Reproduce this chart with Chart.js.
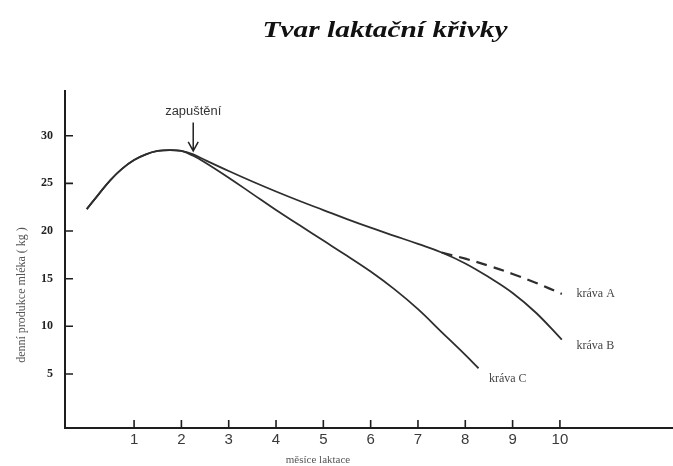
<!DOCTYPE html>
<html>
<head>
<meta charset="utf-8">
<script src="https://cdn.jsdelivr.net/npm/chart.js@4"></script>
<style>
  html, body { margin: 0; padding: 0; background: #fff; }
  #c { display: block; }
</style>
</head>
<body>
<canvas id="c" width="673" height="466"></canvas>
<script>
// ---- data ----
const title = "Tvar laktační křivky";
const yAxisTitle = "denní produkce mléka ( kg )";
const xAxisTitle = "měsíce laktace";
const xTickValues = [1, 2, 3, 4, 5, 6, 7, 8, 9, 10];
const yTickValues = [5, 10, 15, 20, 25, 30];

// shared rising part (before zapuštění)
const riseX = [0, 0.25, 0.5, 0.75, 1.0, 1.25, 1.5, 1.75, 2.0];
const riseY = [22.3, 23.85, 25.35, 26.55, 27.45, 28.05, 28.4, 28.5, 28.4];

// kráva C (after split)
const cowCX = [2.25, 2.5, 3.0, 3.5, 4.0, 4.5, 5.0, 5.5, 6.0, 6.5, 7.0, 7.5, 8.0, 8.28];
const cowCY = [27.9, 27.2, 25.6, 23.9, 22.2, 20.6, 19.0, 17.4, 15.75, 13.9, 11.8, 9.4, 7.0, 5.6];

// kráva B (upper branch, solid, after split)
const cowBX = [2.25, 2.5, 3.0, 3.5, 4.0, 4.5, 5.0, 5.5, 6.0, 6.5, 7.0, 7.5, 8.0, 8.5, 9.0, 9.5, 10.04];
const cowBY = [28.05, 27.45, 26.3, 25.2, 24.15, 23.15, 22.2, 21.25, 20.35, 19.5, 18.65, 17.75, 16.6, 15.15, 13.5, 11.4, 8.6];

// kráva A (dashed continuation)
const cowAX = [7.5, 8.0, 8.5, 9.0, 9.5, 10.04];
const cowAY = [17.75, 17.1, 16.35, 15.5, 14.55, 13.4];

const labels = [
  { text: "kráva A", x: 10.35, y: 13.4 },
  { text: "kráva B", x: 10.35, y: 7.9 },
  { text: "kráva C", x: 8.5, y: 4.5 }
];
const inseminationLabel = "zapuštění";
const inseminationX = 2.25;

function pts(xs, ys) { return xs.map((x, i) => ({ x: x, y: ys[i] })); }

const lineColor = '#2e2e2e';
const base = { borderColor: lineColor, borderWidth: 1.8, pointRadius: 0, tension: 0.4, fill: false };

const decor = {
  id: 'decor',
  afterDraw(chart) {
    const ctx = chart.ctx;
    const xs = chart.scales.x, ys = chart.scales.y;
    const ca = chart.chartArea;
    ctx.save();
    // axes lines
    ctx.strokeStyle = '#1e1e1e';
    ctx.lineWidth = 2;
    ctx.beginPath();
    ctx.moveTo(ca.left, ca.top);
    ctx.lineTo(ca.left, ca.bottom);
    ctx.lineTo(ca.right, ca.bottom);
    ctx.stroke();
    // inner tick marks
    ctx.lineWidth = 1.6;
    ctx.beginPath();
    yTickValues.forEach(v => {
      const py = ys.getPixelForValue(v);
      ctx.moveTo(ca.left, py); ctx.lineTo(ca.left + 8, py);
    });
    xTickValues.forEach(v => {
      const px = xs.getPixelForValue(v);
      ctx.moveTo(px, ca.bottom); ctx.lineTo(px, ca.bottom - 8);
    });
    ctx.stroke();

    // title (stretched horizontally like the reference)
    ctx.save();
    ctx.fillStyle = '#111';
    ctx.font = 'italic bold 24px "Liberation Serif", "DejaVu Serif", serif';
    ctx.textAlign = 'center';
    ctx.textBaseline = 'middle';
    const tw = ctx.measureText(title).width;
    ctx.translate(385, 31);
    ctx.scale(245 / tw, 1);
    ctx.fillText(title, 0, 0);
    ctx.restore();

    // axis titles
    ctx.textAlign = 'center';
    ctx.textBaseline = 'middle';
    ctx.fillStyle = '#555';
    ctx.font = '11px "Liberation Serif", serif';
    ctx.fillText(xAxisTitle, 318, 460);
    ctx.save();
    ctx.translate(22, 295);
    ctx.rotate(-Math.PI / 2);
    ctx.font = '12px "Liberation Serif", serif';
    ctx.fillText(yAxisTitle, 0, 0);
    ctx.restore();

    // curve labels
    ctx.fillStyle = '#444';
    ctx.font = '12px "Liberation Serif", serif';
    ctx.textAlign = 'left';
    labels.forEach(l => {
      ctx.fillText(l.text, xs.getPixelForValue(l.x), ys.getPixelForValue(l.y));
    });

    // zapuštění arrow
    const ax = xs.getPixelForValue(inseminationX);
    const aTop = ys.getPixelForValue(31.4);
    const aBot = ys.getPixelForValue(28.4);
    ctx.strokeStyle = '#222';
    ctx.lineWidth = 1.5;
    ctx.beginPath();
    ctx.moveTo(ax, aTop); ctx.lineTo(ax, aBot);
    ctx.moveTo(ax - 5, aBot - 9); ctx.lineTo(ax, aBot); ctx.lineTo(ax + 5, aBot - 9);
    ctx.stroke();
    ctx.save();
    ctx.fillStyle = '#333';
    ctx.font = '12px "Liberation Sans", sans-serif';
    ctx.textAlign = 'center';
    const lw = ctx.measureText(inseminationLabel).width;
    ctx.translate(ax, aTop - 11);
    ctx.scale(56 / lw, 1);
    ctx.fillText(inseminationLabel, 0, 0);
    ctx.restore();
    ctx.restore();
  }
};

new Chart(document.getElementById('c'), {
  type: 'line',
  data: {
    datasets: [
      Object.assign({ label: 'kráva C', data: pts(riseX.concat(cowCX), riseY.concat(cowCY)) }, base),
      Object.assign({ label: 'kráva B', data: pts(riseX.concat(cowBX), riseY.concat(cowBY)) }, base),
      Object.assign({ label: 'kráva A', data: pts(cowAX, cowAY) }, base, { borderDash: [11, 7], borderWidth: 2.2 })
    ]
  },
  options: {
    responsive: false,
    animation: false,
    devicePixelRatio: 1,
    layout: { padding: { top: 90, left: 0, right: 0, bottom: 0 } },
    plugins: { legend: { display: false }, tooltip: { enabled: false }, title: { display: false } },
    scales: {
      x: {
        type: 'linear', min: -0.46, max: 12.39,
        grid: { display: false, drawTicks: false },
        border: { display: false },
        afterBuildTicks: s => { s.ticks = xTickValues.map(v => ({ value: v })); },
        afterFit: s => { s.height = 38; },
        ticks: {
          autoSkip: false, maxRotation: 0, padding: 3,
          color: '#3a3a3a',
          font: { family: '"Liberation Sans", Arial, sans-serif', size: 15 }
        }
      },
      y: {
        type: 'linear', min: -0.67, max: 34.8,
        grid: { display: false, drawTicks: false },
        border: { display: false },
        afterBuildTicks: s => { s.ticks = yTickValues.map(v => ({ value: v })); },
        afterFit: s => { s.width = 65; },
        ticks: {
          autoSkip: false, padding: 12,
          color: '#222',
          font: { family: '"Liberation Serif", serif', size: 12, weight: 'bold' }
        }
      }
    }
  },
  plugins: [decor]
});
</script>
</body>
</html>
